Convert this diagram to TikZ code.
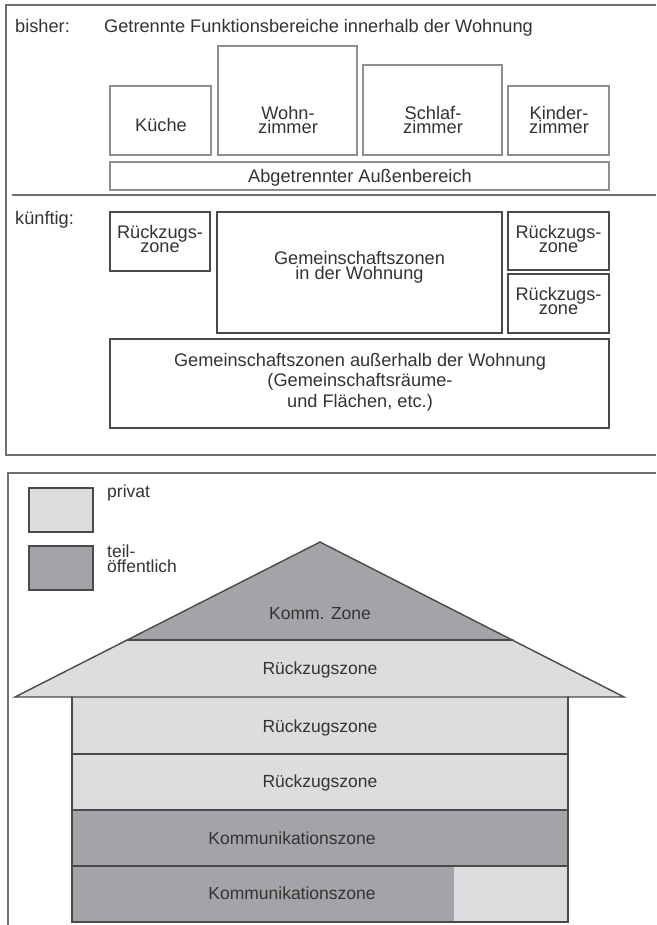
\documentclass[tikz,border=0pt]{standalone}
\usepackage{fontspec}
\setmainfont{Liberation Sans}
\usetikzlibrary{fit}
\definecolor{lightf}{HTML}{DCDDDF}
\definecolor{darkf}{HTML}{A3A4A7}
\definecolor{edgec}{HTML}{4A4A4A}
\definecolor{softedge}{HTML}{8E8E8E}
\definecolor{framec}{HTML}{707070}
\definecolor{txt}{HTML}{333333}
\newcommand{\mlstackc}[2][13.8pt]{\vtop{\baselineskip=#1\relax\lineskiplimit=-1000pt\relax\halign{\hfil##\hfil\cr#2\crcr}}}
\newcommand{\mlstackl}[2][13.8pt]{\vtop{\baselineskip=#1\relax\lineskiplimit=-1000pt\relax\halign{##\hfil\cr#2\crcr}}}
\begin{document}
\begin{tikzpicture}[x=1pt,y=-1pt,
  lbl/.style={inner sep=0pt, text=txt, font=\fontsize{17.5pt}{21pt}\selectfont, anchor=base},
  lblw/.style={lbl, anchor=base west},
  toplbl/.style={lbl, font=\fontsize{18.2pt}{21pt}\selectfont},
  toplblw/.style={toplbl, anchor=base west},
  oldroom/.style={draw=softedge, line width=1.3pt, inner sep=0pt},
  newroom/.style={draw=edgec, line width=1.3pt, inner sep=0pt},
  legbox/.style={draw=edgec, line width=1.3pt, inner sep=0pt},
  frameline/.style={draw=framec, line width=1.5pt},
  houseline/.style={draw=edgec, line width=1.4pt, line join=miter, line cap=round},
]
\useasboundingbox (0,0) rectangle (656,925);

% ---------- upper panel frame ----------
\coordinate (f1a) at (656,5);
\coordinate (f1b) at (6,5);
\coordinate (f1c) at (6,455);
\coordinate (f1d) at (656,455);
\draw[frameline] (f1a) -- (f1b) -- (f1c) -- (f1d);
\coordinate (d1) at (12,195);
\coordinate (d2) at (656,195);
\draw[frameline] (d1) -- (d2);

% ---------- bisher ----------
\node[toplblw] (bisher) at (15,33) {bisher:};
\node[toplblw] (title) at (104,33) {Getrennte Funktionsbereiche innerhalb der Wohnung};

\node[oldroom, fit={(110,86) (211,155)}] (kueche) {};
\node[oldroom, fit={(218,46) (357,155)}] (wohn) {};
\node[oldroom, fit={(363,65) (502,155)}] (schlaf) {};
\node[oldroom, fit={(508,86) (609,155)}] (kinder) {};
\node[oldroom, fit={(110,162) (609,190)}] (aussen) {};

\node[toplbl] (tkueche) at (161,132) {Küche};
\node[toplbl] (twohn) at (288,120) {\mlstackc{Wohn-\cr zimmer}};
\node[toplbl] (tschlaf) at (433,120) {\mlstackc{Schlaf-\cr zimmer}};
\node[toplbl] (tkinder) at (559,120) {\mlstackc{Kinder-\cr zimmer}};
\node[toplbl] (taussen) at (360,183) {Abgetrennter Außenbereich};

% ---------- künftig ----------
\node[toplblw] (kuenftig) at (15,225) {künftig:};
\node[newroom, fit={(110,212) (210,271)}] (rz1) {};
\node[newroom, fit={(217,212) (502,333)}] (gem) {};
\node[newroom, fit={(508,212) (609,270)}] (rz2) {};
\node[newroom, fit={(508,274) (609,333)}] (rz3) {};
\node[newroom, fit={(110,339) (609,428)}] (gemaus) {};

\node[toplbl] (trz1) at (160,239) {\mlstackc{Rückzugs-\cr zone}};
\node[toplbl] (trz2) at (558.5,239) {\mlstackc{Rückzugs-\cr zone}};
\node[toplbl] (trz3) at (558.5,300.5) {\mlstackc{Rückzugs-\cr zone}};
\node[toplbl] (tgem) at (359.5,264) {\mlstackc[15pt]{Gemeinschaftszonen\cr in der Wohnung}};
\node[toplbl] (tgemaus) at (360,366) {\mlstackc[20.75pt]{Gemeinschaftszonen außerhalb der Wohnung\cr (Gemeinschaftsräume-\cr und Flächen, etc.)}};

% ---------- lower panel frame ----------
\coordinate (f2a) at (656,473);
\coordinate (f2b) at (8,473);
\coordinate (f2c) at (8,925);
\draw[frameline] (f2a) -- (f2b) -- (f2c);

% legend
\node[legbox, fill=lightf, fit={(29,488) (93,532)}] (legpriv) {};
\node[legbox, fill=darkf, fit={(29,546) (93,590)}] (legteil) {};
\node[lblw] (tpriv) at (107,497) {privat};
\node[lblw] (tteil) at (107,557) {\mlstackl[15pt]{teil-\cr öffentlich}};

% house geometry
\coordinate (apex) at (320,542);
\coordinate (kl) at (127,640);
\coordinate (kr) at (513,640);
\coordinate (el) at (15,697);
\coordinate (er) at (624,697);
\coordinate (wl0) at (72,697);
\coordinate (wr0) at (568,697);
\coordinate (wl1) at (72,754);
\coordinate (wr1) at (568,754);
\coordinate (wl2) at (72,810);
\coordinate (wr2) at (568,810);
\coordinate (wl3) at (72,866);
\coordinate (wr3) at (568,866);
\coordinate (wl4) at (72,922);
\coordinate (wr4) at (568,922);
\coordinate (sp3) at (454,866);
\coordinate (sp4) at (454,922);

% fills
\fill[darkf] (apex) -- (kl) -- (kr) -- cycle;
\fill[lightf] (kl) -- (kr) -- (er) -- (el) -- cycle;
\fill[lightf] (wl0) rectangle (wr2);
\fill[darkf] (wl2) rectangle (wr3);
\fill[darkf] (wl3) rectangle (sp4);
\fill[lightf] (sp3) rectangle (wr4);

% outlines
\draw[houseline] (el) -- (apex) -- (er) -- cycle;
\draw[houseline] (kl) -- (kr);
\draw[houseline] (wl0) -- (wl4) -- (wr4) -- (wr0);
\draw[houseline] (wl1) -- (wr1);
\draw[houseline] (wl2) -- (wr2);
\draw[houseline] (wl3) -- (wr3);

% house labels
\node[lbl] (tkomm) at (320,619) {Komm. Zone};
\node[lbl] (troof) at (320,674) {Rückzugszone};
\node[lbl] (tfl1) at (320,732.5) {Rückzugszone};
\node[lbl] (tfl2) at (320,787.5) {Rückzugszone};
\node[lbl] (tfl3) at (292,844) {Kommunikationszone};
\node[lbl] (tfl4) at (292,899) {Kommunikationszone};
\end{tikzpicture}
\end{document}
